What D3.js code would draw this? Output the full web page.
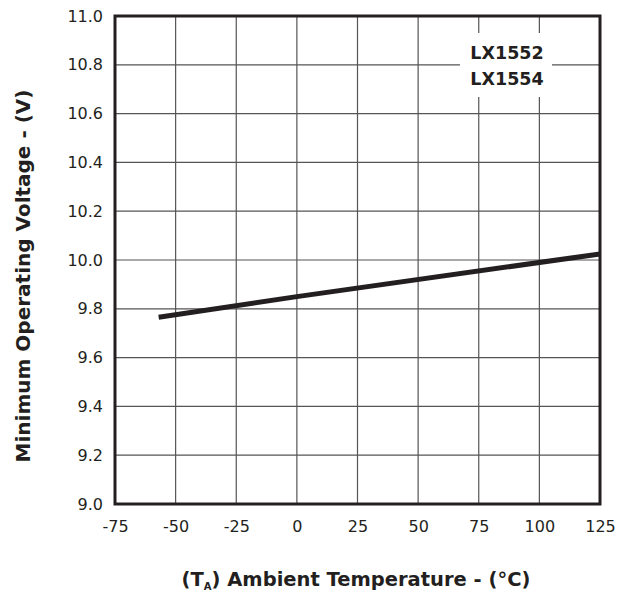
<!DOCTYPE html>
<html>
<head>
<meta charset="utf-8">
<script src="https://cdn.jsdelivr.net/npm/d3@7"></script>
<style>
  body { margin: 0; background: #fff; }
  svg { display: block; }
  text { font-family: "DejaVu Sans", sans-serif; fill: #231f20; }
</style>
</head>
<body>
<svg id="chart" width="631" height="597"></svg>
<script>
const temps = [-57, 0, 125];
const voltages = [9.765, 9.850, 10.025];
const xTicks = [-75, -50, -25, 0, 25, 50, 75, 100, 125];
const yTicks = [9.0, 9.2, 9.4, 9.6, 9.8, 10.0, 10.2, 10.4, 10.6, 10.8, 11.0];
const legendLines = ["LX1552", "LX1554"];

const svg = d3.select("#chart");
const pL = 115, pR = 600, pT = 16, pB = 504;
const x = d3.scaleLinear().domain([-75, 125]).range([pL, pR]);
const y = d3.scaleLinear().domain([9.0, 11.0]).range([pB, pT]);

// grid
svg.append("g").selectAll("line").data(xTicks).join("line")
  .attr("x1", d => x(d)).attr("x2", d => x(d))
  .attr("y1", pT).attr("y2", pB)
  .attr("stroke", "#555").attr("stroke-width", 1.2);
svg.append("g").selectAll("line").data(yTicks).join("line")
  .attr("x1", pL).attr("x2", pR)
  .attr("y1", d => y(d)).attr("y2", d => y(d))
  .attr("stroke", "#555").attr("stroke-width", 1.2);

// legend box (white background)
const lg = svg.append("g");
lg.append("rect").attr("x", 460).attr("y", 33).attr("width", 92).attr("height", 64).attr("fill", "#fff");
lg.selectAll("text").data(legendLines).join("text")
  .attr("x", 507).attr("y", (d, i) => 59 + i * 26)
  .attr("text-anchor", "middle")
  .attr("font-size", 17.5).attr("font-weight", "bold")
  .text(d => d);

// data line
const line = d3.line().x((d, i) => x(temps[i])).y(d => y(d));
svg.append("path").datum(voltages)
  .attr("d", line)
  .attr("fill", "none").attr("stroke", "#231f20").attr("stroke-width", 5);

// frame
svg.append("rect").attr("x", pL).attr("y", pT)
  .attr("width", pR - pL).attr("height", pB - pT)
  .attr("fill", "none").attr("stroke", "#231f20").attr("stroke-width", 3);

// axes labels
const xAxis = d3.axisBottom(x).tickValues(xTicks).tickSize(0).tickPadding(17).tickFormat(d => String(d));
const gx = svg.append("g").attr("transform", `translate(0,${pB})`).call(xAxis);
gx.select(".domain").remove();
gx.selectAll("text").attr("font-size", 16).attr("font-family", "DejaVu Sans, sans-serif").attr("fill", "#231f20");

const yAxis = d3.axisLeft(y).tickValues(yTicks).tickSize(0).tickPadding(12).tickFormat(d3.format(".1f"));
const gy = svg.append("g").attr("transform", `translate(${pL},0)`).call(yAxis);
gy.select(".domain").remove();
gy.selectAll("text").attr("font-size", 16).attr("font-family", "DejaVu Sans, sans-serif").attr("fill", "#231f20");

// x title
const xt = svg.append("text").attr("x", 356).attr("y", 586)
  .attr("text-anchor", "middle").attr("font-size", 19.5).attr("font-weight", "bold");
xt.append("tspan").text("(T");
xt.append("tspan").attr("font-size", 10).attr("dy", 4).text("A");
xt.append("tspan").attr("dy", -4).text(")  Ambient Temperature - (°C)");

// y title
svg.append("text")
  .attr("transform", "translate(30,276) rotate(-90)")
  .attr("text-anchor", "middle").attr("font-size", 20).attr("font-weight", "bold")
  .text("Minimum Operating Voltage - (V)");
</script>
</body>
</html>
